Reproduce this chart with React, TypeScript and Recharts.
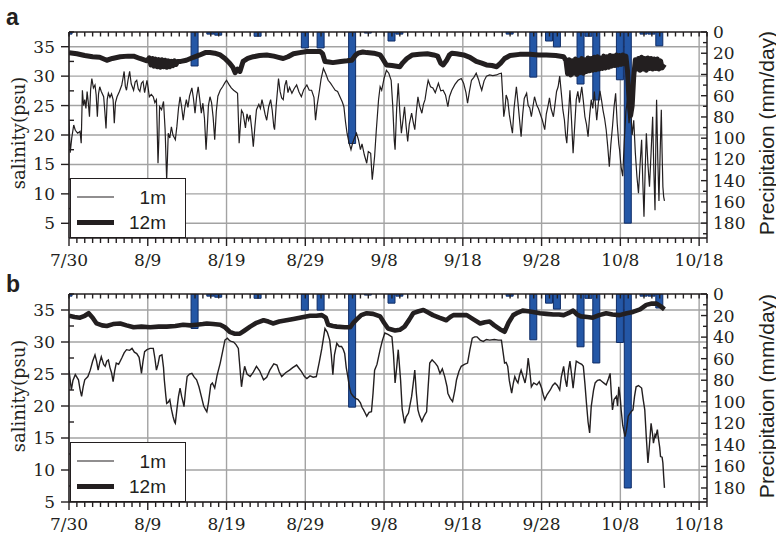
import React from 'react'
import { ComposedChart, Line, Bar, XAxis, YAxis, CartesianGrid, Legend } from 'recharts'

// x values are days counted from 7/30
const xMajor = [0, 10, 20, 30, 40, 50, 60, 70, 80]
const xLabels = ['7/30', '8/9', '8/19', '8/29', '9/8', '9/18', '9/28', '10/8', '10/18']
const dayTicks = Array.from({ length: 82 }, (_, i) => i)

const salMajor = [5, 10, 15, 20, 25, 30, 35]
const salTicks = [5, 7.5, 10, 12.5, 15, 17.5, 20, 22.5, 25, 27.5, 30, 32.5, 35, 37.5]
const precipMajor = [0, 20, 40, 60, 80, 100, 120, 140, 160, 180]
const precipTicks = [0, 10, 20, 30, 40, 50, 60, 70, 80, 90, 100, 110, 120, 130, 140, 150, 160, 170, 180, 190]

// daily precipitation (mm/day)
const rainDays = [0, 16, 18, 19, 24, 30, 32, 36, 38, 41, 42, 56, 59, 61, 62, 65, 66, 67, 70, 71, 73, 74, 75]
const rainMm = [2, 32, 2, 3, 4, 15, 15, 105, 1, 8.5, 2, 2, 42.5, 8.5, 14, 49, 4, 64, 45, 180, 2, 2, 13]

// panel a, salinity at 1 m
const a1m: [number, number][] = [
  [0, 22.5], [0.15, 17], [0.35, 19.5], [0.6, 21.7], [0.8, 20.8], [1.1, 20.3], [1.4, 20.6], [1.55, 18.6], [1.7, 27.6], [1.85, 25],
  [2, 26], [2.15, 24.5], [2.3, 27.4], [2.45, 25.5], [2.6, 23.1], [2.75, 27.8], [2.9, 29.6], [3.1, 28], [3.3, 28.5], [3.45, 26.8],
  [3.6, 23.1], [3.75, 27], [3.9, 28.2], [4.1, 27.4], [4.4, 26.5], [4.55, 24], [4.7, 21.1], [4.85, 26], [5, 27.1], [5.2, 26.4],
  [5.4, 27], [5.6, 26], [5.75, 22], [5.9, 25.5], [6.1, 26.5], [6.4, 27.4], [6.7, 28.5], [6.85, 29.6], [7, 30.8], [7.15, 28.3],
  [7.3, 27.6], [7.5, 29.4], [7.7, 30.8], [7.9, 28.7], [8.2, 27.6], [8.4, 29], [8.6, 29.3], [8.8, 27.8], [9, 27.4], [9.2, 28.8],
  [9.4, 29.1], [9.6, 27.2], [9.9, 29.3], [10.05, 28], [10.2, 26.5], [10.45, 26.9], [10.7, 26.5], [10.9, 25.5], [11.1, 26], [11.2, 21],
  [11.3, 15.2], [11.4, 19], [11.5, 24.8], [11.75, 24.3], [12, 25.7], [12.2, 21], [12.4, 12.4], [12.5, 16], [12.6, 20.3], [12.8, 19.5],
  [13, 21.4], [13.2, 20], [13.5, 19.2], [13.7, 21.5], [13.9, 24.5], [14.1, 26.5], [14.3, 24.8], [14.5, 22.5], [14.7, 24.6], [14.9, 26],
  [15.1, 24.7], [15.3, 26.6], [15.6, 28], [15.8, 26.2], [16, 23.7], [16.2, 26.5], [16.4, 28.2], [16.6, 26.1], [16.8, 23.7], [17, 25.4],
  [17.2, 22.8], [17.4, 17.5], [17.55, 21], [17.7, 25], [17.9, 26.5], [18.1, 25.5], [18.3, 23], [18.5, 19.2], [18.7, 24], [18.9, 26.6],
  [19.2, 27.6], [19.5, 28.2], [19.8, 28.9], [20, 29.3], [20.3, 28.6], [20.6, 28], [20.9, 27.6], [21.2, 27.3], [21.4, 27.1], [21.5, 23],
  [21.6, 18.6], [21.75, 21.5], [21.9, 24.2], [22.1, 23.7], [22.4, 21.2], [22.6, 23.6], [22.8, 22.5], [23, 23.4], [23.2, 21], [23.4, 18],
  [23.6, 21.4], [23.8, 24.3], [24.1, 25.2], [24.3, 24.5], [24.5, 26], [24.7, 24.8], [24.9, 23.5], [25.1, 22.5], [25.35, 24.8], [25.6, 26],
  [25.8, 24.2], [26, 21.4], [26.1, 20.9], [26.3, 24.9], [26.6, 29.6], [26.8, 27.4], [27, 26.3], [27.2, 26], [27.4, 28.4], [27.6, 29.3],
  [27.8, 27.2], [28, 28.1], [28.3, 27.1], [28.6, 27.9], [28.9, 28.5], [29.2, 27.3], [29.5, 26.5], [29.8, 27.7], [30.2, 28.5], [30.5, 27.6],
  [30.8, 27.6], [31.1, 26.4], [31.3, 22.5], [31.5, 25], [31.8, 27.6], [32, 29.5], [32.3, 31.3], [32.6, 30.4], [32.9, 29.3], [33.2, 28.8],
  [33.5, 28.2], [33.8, 27.6], [34.1, 27.4], [34.4, 26.5], [34.7, 25.6], [34.9, 24.8], [35.1, 22.3], [35.3, 20.3], [35.55, 18.7], [35.8, 17.5],
  [36, 18.6], [36.25, 19.5], [36.5, 20.3], [36.75, 19.2], [37, 17.5], [37.2, 18.5], [37.5, 16.6], [37.8, 15.2], [38, 17.2], [38.3, 16.9],
  [38.5, 12.4], [38.65, 14.3], [38.8, 16.4], [39, 20.5], [39.3, 26], [39.5, 28.2], [39.7, 27.6], [40, 29.6], [40.3, 31], [40.6, 30.5],
  [40.9, 29.3], [41.1, 25], [41.3, 19], [41.4, 17.5], [41.6, 24.5], [41.8, 28.8], [42, 24], [42.2, 20.3], [42.4, 22.5], [42.6, 24.8],
  [42.8, 21.5], [43, 18.9], [43.2, 21.8], [43.5, 23.7], [43.7, 22.2], [43.9, 20.9], [44.1, 24], [44.3, 26.5], [44.5, 25], [44.8, 23.7],
  [45, 25.2], [45.2, 26], [45.4, 27.8], [45.6, 29.3], [45.9, 28.2], [46.2, 28], [46.5, 27.2], [46.9, 28.8], [47.2, 27.5], [47.5, 27.6],
  [47.8, 26.8], [48.1, 24.8], [48.3, 26.5], [48.6, 27.6], [49, 28.6], [49.4, 29.3], [49.8, 29.6], [50.1, 28.8], [50.4, 27.2], [50.6, 25.4],
  [50.85, 27.5], [51.1, 29.3], [51.4, 29.8], [51.7, 30.5], [52, 29.4], [52.2, 28.4], [52.4, 27.6], [52.7, 29.2], [53, 30], [53.4, 30.2],
  [53.8, 30.1], [54.3, 30.2], [54.6, 30.4], [54.9, 30.5], [55.05, 27], [55.2, 23.1], [55.35, 24.5], [55.5, 26.8], [55.7, 26], [55.9, 23.5],
  [56.1, 21.8], [56.3, 20.3], [56.5, 24.5], [56.8, 28.2], [57, 25.5], [57.2, 22.6], [57.4, 19.7], [57.6, 23.5], [57.8, 26.2], [58.1, 27.1],
  [58.3, 25], [58.5, 24.6], [58.7, 23.1], [58.9, 24.8], [59.1, 26.5], [59.4, 25], [59.6, 24.5], [59.8, 23.7], [60.1, 22.5], [60.4, 20.9],
  [60.6, 23.6], [60.8, 24.8], [61, 26.3], [61.2, 24.5], [61.5, 23.1], [61.7, 25.2], [61.9, 27.4], [62.1, 28.2], [62.3, 30], [62.5, 27.2],
  [62.7, 24.3], [62.9, 22.5], [63.05, 20], [63.2, 18.6], [63.4, 23.2], [63.6, 27.6], [63.8, 22.5], [64, 16.9], [64.2, 21.5], [64.4, 26],
  [64.6, 27.4], [64.8, 25.5], [65.1, 28.2], [65.3, 25.8], [65.5, 23.1], [65.7, 21.8], [65.9, 19.7], [66.1, 23.3], [66.3, 26], [66.5, 24.5],
  [66.7, 27.4], [67, 22.5], [67.2, 25.4], [67.4, 27.5], [67.6, 26], [67.8, 24.2], [68, 22.8], [68.2, 20.9], [68.4, 18], [68.6, 14.6],
  [68.8, 18.5], [69, 21.4], [69.2, 24.8], [69.4, 27.1], [69.6, 22], [69.8, 18.5], [69.9, 17.5], [70.1, 14.5], [70.3, 13], [70.5, 19],
  [70.7, 24], [70.9, 26], [71.1, 22], [71.3, 24.5], [71.5, 20], [71.7, 22.5], [71.9, 17], [72.1, 13], [72.3, 10.1], [72.5, 15],
  [72.7, 19.2], [72.85, 12], [73, 6.1], [73.15, 14], [73.3, 20.3], [73.5, 15], [73.7, 11.2], [73.9, 17], [74.1, 23.1], [74.25, 14],
  [74.4, 7.2], [74.5, 18], [74.6, 26], [74.75, 16], [74.9, 8.8], [75.05, 17], [75.2, 24.3], [75.3, 17], [75.4, 11.2], [75.5, 9.5],
  [75.6, 8.8],
]

// panel a, salinity at 12 m (noisy stretches read as a fuzzy band)
const a12m: [number, number][] = [
  [0, 34], [1, 33.8], [2, 33.5], [3, 33.3], [3.9, 33.2], [4.8, 32.7], [5.5, 33], [6.5, 33.3], [7.5, 33.4], [8.2, 33.4],
  [9, 33], [9.9, 32.6], [10.2, 33.1], [10.4, 31.9], [10.6, 33], [10.8, 31.7], [11, 32.9], [11.2, 31.6], [11.4, 32.8], [11.6, 31.5],
  [11.8, 32.8], [12, 31.6], [12.2, 32.7], [12.4, 31.5], [12.6, 32.6], [12.8, 31.6], [13, 32.5], [13.2, 31.8], [13.4, 32.6], [13.6, 32],
  [13.8, 32.5], [14.2, 32.5], [14.9, 32.7], [15.8, 33.2], [16.6, 33.6], [17.3, 34], [17.9, 34], [18.5, 33.9], [19.2, 33.6], [19.8, 33],
  [20.4, 32.2], [20.8, 31.5], [21.1, 30.6], [21.4, 31.2], [21.7, 30.8], [22.1, 32.5], [22.7, 33], [23.4, 33.3], [24.2, 33.5], [25.1, 33.6],
  [26, 33.4], [26.6, 33.2], [27.2, 33], [27.8, 33.3], [28.5, 33.8], [29.3, 34], [30.2, 34.2], [31, 34.2], [31.9, 34.2], [32.2, 33.8],
  [32.5, 32.5], [33, 32.4], [33.5, 32.3], [34.5, 32.5], [35.3, 32.6], [35.9, 32.7], [36.4, 33.6], [36.7, 33.9], [37.3, 34.1], [37.8, 34],
  [38.7, 33.9], [39.5, 33.6], [39.9, 32.8], [40.3, 31.9], [41, 31.8], [42, 31.6], [42.4, 32.3], [42.9, 33], [43.6, 33.6], [44.5, 33.7],
  [45.5, 33.8], [46.3, 33.6], [46.8, 33.4], [47.2, 32.2], [47.5, 31.9], [47.9, 32.6], [48.3, 33.6], [48.6, 33.9], [49.2, 33.8], [50.1, 33.6],
  [50.9, 33.2], [51.7, 32.5], [52.4, 32.2], [53, 31.9], [53.7, 31.8], [54.3, 31.6], [54.8, 32.2], [55.3, 33], [56, 33.5], [57.2, 33.7],
  [58.5, 33.7], [59.6, 33.6], [60.6, 33.6], [61.8, 33.5], [62.8, 33.3], [63.1, 32.6], [63.3, 30.4], [63.5, 32.8], [63.7, 30.2], [63.9, 32.6],
  [64.1, 30.5], [64.3, 32.9], [64.5, 30.3], [64.7, 32.7], [64.9, 30.6], [65.1, 33], [65.3, 30.5], [65.5, 32.8], [65.7, 30.8], [65.9, 33.1],
  [66.1, 30.9], [66.3, 33], [66.5, 31], [66.7, 33.2], [66.9, 31.1], [67.1, 33.3], [67.3, 31.2], [67.5, 33.1], [67.7, 31.3], [67.9, 33.4],
  [68.1, 31.4], [68.3, 33.3], [68.5, 31.5], [68.7, 33.5], [68.9, 31.7], [69.1, 33.4], [69.3, 31.8], [69.5, 33.6], [69.7, 31.9], [69.9, 33.5],
  [70.1, 32], [70.3, 33.6], [70.5, 32.1], [70.7, 33.4], [70.9, 31], [71.1, 26], [71.3, 23.3], [71.5, 25], [71.7, 30], [71.9, 32.8],
  [72.1, 31.2], [72.3, 33], [72.5, 31], [72.7, 33.2], [72.9, 31.2], [73.1, 33], [73.3, 31], [73.5, 33.1], [73.7, 31.3], [73.9, 33],
  [74.1, 31.2], [74.3, 32.9], [74.5, 31.3], [74.7, 32.9], [74.9, 31.2], [75.1, 32.6], [75.3, 31.4], [75.6, 32],
]

// panel b, salinity at 1 m
const b1m: [number, number][] = [
  [0, 25.6], [0.3, 22.5], [0.5, 24], [0.8, 24.9], [1.2, 24.1], [1.4, 22.6], [1.6, 21.5], [1.8, 23], [2, 24.1], [2.4, 24.6],
  [2.7, 25.6], [3, 27], [3.3, 28], [3.5, 27], [3.7, 25.6], [3.9, 26.8], [4.1, 27.7], [4.4, 26.5], [4.6, 26.2], [4.8, 27],
  [5, 27.2], [5.2, 26], [5.4, 25.2], [5.6, 23.8], [5.8, 25.5], [6, 26.7], [6.3, 26.5], [6.7, 27.5], [7, 28.3], [7.3, 28.8],
  [7.7, 28.7], [8, 29], [8.3, 28.4], [8.6, 28.2], [8.9, 27.6], [9.1, 26], [9.2, 25.1], [9.4, 27], [9.6, 28.5], [9.9, 28.8],
  [10.3, 29], [10.7, 29], [10.9, 27.5], [11.1, 25.6], [11.3, 26.5], [11.5, 27.8], [11.8, 28], [12, 26], [12.1, 24.1], [12.3, 21.5],
  [12.4, 20.4], [12.6, 20.6], [12.8, 21], [13, 19.5], [13.2, 18.4], [13.4, 17.5], [13.5, 17.3], [13.7, 19.5], [13.9, 21.5], [14.1, 22.8],
  [14.3, 21.5], [14.5, 20.5], [14.6, 19.9], [14.8, 22.5], [15, 24.6], [15.3, 25], [15.6, 25.1], [15.9, 24.5], [16.2, 24.1], [16.5, 23],
  [16.8, 21.5], [17.1, 20], [17.3, 19.5], [17.5, 19.1], [17.7, 20.5], [18, 23.3], [18.2, 23.6], [18.5, 22.8], [18.8, 24.8], [19.2, 26.7],
  [19.5, 28.5], [19.8, 30.3], [20.1, 30.6], [20.4, 30.2], [20.6, 30.1], [20.9, 30], [21.2, 29.6], [21.5, 29], [21.7, 26], [21.9, 23],
  [22.1, 24.8], [22.3, 26.2], [22.6, 25], [23, 24.6], [23.4, 25.3], [23.8, 26.2], [24.2, 25.5], [24.7, 24.1], [25.1, 24.5], [25.5, 25.6],
  [26, 26.6], [26.4, 26.4], [26.7, 25.3], [27, 24.6], [27.5, 25.2], [28, 25.6], [28.4, 26], [28.9, 26.4], [29.2, 25.9], [29.5, 25.4],
  [29.9, 24.6], [30.2, 24.3], [30.6, 24.7], [31, 24.5], [31.4, 24.6], [31.8, 27], [32.1, 29], [32.5, 32.1], [32.8, 31.5], [33.1, 30.3],
  [33.3, 28], [33.5, 24.9], [33.7, 28], [34, 29.8], [34.3, 29.3], [34.6, 29.3], [34.8, 28.9], [35, 28.2], [35.2, 26], [35.4, 24.6],
  [35.6, 23], [35.8, 22], [36.1, 21.5], [36.4, 21.2], [36.7, 21], [37, 20.5], [37.2, 19.8], [37.4, 19.4], [37.6, 18.9], [37.8, 18.4],
  [38.1, 19], [38.4, 19.1], [38.6, 22], [38.8, 25.6], [39.1, 26.5], [39.5, 28.8], [39.8, 30.3], [40.1, 31.4], [40.5, 31.2], [41, 30.8],
  [41.2, 28], [41.4, 23.6], [41.6, 26], [41.8, 28.8], [42.1, 24], [42.3, 19.5], [42.6, 17.3], [42.8, 18.3], [43.1, 18.9], [43.3, 20.2],
  [43.5, 21.5], [43.7, 23.5], [43.9, 25.6], [44.1, 22], [44.3, 19.4], [44.5, 18.5], [44.8, 17.6], [45, 18.2], [45.2, 18.7], [45.4, 19.1],
  [45.6, 23], [45.8, 26.7], [46.1, 27.2], [46.5, 26.7], [46.8, 26.2], [47.1, 25.1], [47.4, 25.8], [47.7, 24.6], [48, 23], [48.1, 22],
  [48.4, 21.2], [48.7, 20.7], [49, 22.5], [49.2, 24.1], [49.5, 25.4], [49.8, 26.2], [50.2, 26.5], [50.6, 26.7], [50.9, 28.8], [51.2, 30.6],
  [51.5, 30.8], [51.8, 30.8], [52.2, 30.3], [52.6, 30.1], [53, 30.4], [53.4, 30.3], [54, 30.4], [54.5, 30.3], [54.9, 30.3], [55.1, 28.5],
  [55.3, 26.7], [55.5, 26.8], [55.7, 26.2], [55.9, 24], [56.2, 22], [56.4, 23.5], [56.6, 24.6], [56.8, 24], [57, 23.6], [57.2, 24.8],
  [57.4, 25.6], [57.6, 24.8], [57.9, 23.6], [58.1, 25], [58.3, 27.5], [58.5, 25.5], [58.7, 23], [59, 23.6], [59.4, 23.3], [59.7, 23.8],
  [60, 22.8], [60.2, 21.8], [60.4, 21], [60.7, 21.8], [61.1, 22.5], [61.4, 23.2], [61.7, 23.6], [62, 23.2], [62.3, 22.5], [62.5, 24.5],
  [62.8, 26.2], [63, 24.2], [63.2, 23], [63.4, 25.5], [63.6, 27], [63.8, 25], [64, 22.8], [64.2, 25], [64.4, 27], [64.8, 26.7],
  [65.1, 26.5], [65.3, 26.2], [65.5, 23.5], [65.7, 20.4], [65.9, 17.5], [66.1, 15.8], [66.3, 19.9], [66.6, 22.5], [66.8, 23.6], [67.1, 24],
  [67.4, 24.1], [67.7, 23.8], [68, 23.5], [68.2, 23.3], [68.5, 24.3], [68.7, 25.1], [68.85, 22], [69, 19.4], [69.2, 21], [69.5, 21.5],
  [69.65, 20], [69.8, 23], [70, 21], [70.1, 19.4], [70.3, 17], [70.6, 15.2], [70.8, 16.5], [71, 18.4], [71.3, 19], [71.6, 19.4],
  [71.8, 21.5], [72, 23], [72.3, 23.2], [72.7, 22.8], [72.9, 21], [73.1, 19.4], [73.3, 15], [73.5, 11.1], [73.7, 14], [73.9, 17.3],
  [74.1, 15.5], [74.2, 14.2], [74.4, 15.5], [74.5, 15.2], [74.7, 16.3], [74.8, 15.2], [75, 13.5], [75.1, 12.1], [75.3, 12], [75.4, 11.1],
  [75.5, 9], [75.6, 7.2],
]

// panel b, salinity at 12 m
const b12m: [number, number][] = [
  [0, 34.1], [0.7, 33.9], [1.4, 33.8], [2, 34.1], [2.5, 34.5], [3, 33.8], [3.5, 32.9], [4.2, 32.6], [4.8, 32.5], [5.6, 32.8],
  [6.5, 32.9], [7.3, 32.6], [8.2, 32.3], [9.2, 32.4], [10.3, 32.3], [11.4, 32.4], [12.4, 32.4], [13.5, 32.5], [14.5, 32.7], [15.4, 32.6],
  [16.2, 32.7], [17, 32.8], [17.5, 32.9], [18.3, 32.8], [19.2, 32.7], [19.8, 32.3], [20.4, 31.6], [21, 31.3], [21.7, 31.3], [22.3, 31.8],
  [23, 32.4], [23.8, 33], [24.7, 33.4], [25.3, 33.2], [25.9, 32.9], [26.7, 33.2], [27.6, 33.4], [28.5, 33.6], [29.3, 33.8], [30.6, 34.1],
  [31.4, 34.1], [32.1, 34.2], [32.6, 33.8], [32.9, 32.7], [33.5, 32.5], [34, 32.4], [35, 32.3], [35.7, 32.3], [36.1, 33], [36.5, 33.5],
  [37.1, 34.2], [37.8, 34.5], [38.6, 34.4], [39.5, 34], [40, 33], [40.5, 32.1], [41.4, 31.8], [42, 31.9], [42.6, 32.4], [43.2, 33.5],
  [43.7, 34.5], [44.4, 34.8], [45, 35], [45.6, 34.6], [46.2, 34.2], [47, 33.8], [47.9, 33.4], [48.4, 33.9], [48.8, 34.2], [49.6, 34.2],
  [50.5, 34.2], [51.4, 33.5], [52.2, 32.9], [52.8, 33.1], [53.4, 33.2], [54, 32.6], [54.7, 32], [55.3, 31.6], [55.8, 33], [56.4, 34.2],
  [57, 34.6], [57.6, 34.9], [58.3, 34.8], [58.9, 34.7], [59.8, 34.5], [60.6, 34.4], [61.5, 34.3], [62.2, 34.3], [62.8, 34.2], [63.4, 34.5],
  [64, 34.9], [64.5, 34.3], [65, 34], [65.8, 33.9], [66.5, 33.8], [67.3, 34.2], [68.2, 34.5], [69, 34.3], [69.9, 34.2], [70.8, 34.5],
  [71.6, 34.7], [72.5, 35.1], [73.3, 35.8], [74, 36], [74.6, 36], [75.1, 35.6], [75.6, 35.1],
]

const INK = '#231f20'
const GRID = '#a3a3a3'
const BAR_FILL = '#2457a6'
const BAR_EDGE = '#0f2c66'
const serif = '"DejaVu Serif", serif'
const sans = '"Liberation Sans", Arial, sans-serif'

const toPoints = (pairs: [number, number][]) => pairs.map(([d, s]) => ({ d, s }))

// top frame: small inward day ticks (tickSize/tickMargin 0, so y sits on the axis line)
function TopTick(props: any) {
  const { x, y } = props
  return <line x1={x} x2={x} y1={y} y2={y + 4.5} stroke={INK} strokeWidth={1.4} />
}

function BottomTick(props: any) {
  const { x, y, payload } = props
  const axisY = y - 16
  const i = xMajor.indexOf(payload.value)
  return (
    <g>
      <line x1={x} x2={x} y1={axisY} y2={axisY + (i >= 0 ? 8 : 5)} stroke={INK} strokeWidth={1.4} />
      {i >= 0 && (
        <text x={x} y={y} dy="0.71em" textAnchor="middle" fontFamily={serif} fontSize={17} fill={INK}>
          {xLabels[i]}
        </text>
      )}
    </g>
  )
}

function LeftTick(props: any) {
  const { x, y, payload } = props
  const axisX = x + 14
  const major = salMajor.includes(payload.value)
  return (
    <g>
      {major
        ? <line x1={axisX - 8} x2={axisX} y1={y} y2={y} stroke={INK} strokeWidth={1.4} />
        : <line x1={axisX} x2={axisX + 5} y1={y} y2={y} stroke={INK} strokeWidth={1.4} />}
      {major && (
        <text x={x} y={y} dy="0.355em" textAnchor="end" fontFamily={serif} fontSize={17} fill={INK}>
          {payload.value}
        </text>
      )}
    </g>
  )
}

function RightTick(props: any) {
  const { x, y, payload } = props
  const axisX = x - 6
  const major = precipMajor.includes(payload.value)
  return (
    <g>
      <line x1={axisX - (major ? 6 : 4)} x2={axisX} y1={y} y2={y} stroke={INK} strokeWidth={1.4} />
      {major && (
        <text x={x} y={y} dy="0.355em" textAnchor="start" fontFamily={serif} fontSize={17} fill={INK}>
          {payload.value}
        </text>
      )}
    </g>
  )
}

const leftTitle = (props: any) => {
  const vb = props.viewBox
  const cx = vb.x + 9
  const cy = vb.y + vb.height / 2 - 2
  return (
    <text x={cx} y={cy} transform={`rotate(-90 ${cx} ${cy})`} textAnchor="middle" dominantBaseline="central"
      fontFamily={serif} fontSize={18} fill={INK}>
      salinity(psu)
    </text>
  )
}

const rightTitle = (props: any) => {
  const vb = props.viewBox
  const cx = vb.x + 59
  const cy = vb.y + vb.height / 2 - 2
  return (
    <text x={cx} y={cy} transform={`rotate(-90 ${cx} ${cy})`} textAnchor="middle" dominantBaseline="central"
      fontFamily={sans} fontSize={21} fill={INK}>
      Precipitaion (mm/day)
    </text>
  )
}

const seriesNames = ['1m', '12m']

function LegendBox({ widths }: { widths: number[] }) {
  return (
    <div style={{ width: 116, height: 60, boxSizing: 'border-box', border: `1.3px solid ${INK}`, background: '#fff', position: 'relative' }}>
      <svg width={114} height={58} style={{ position: 'absolute', left: 0, top: 0 }}>
        {seriesNames.map((name, i) => (
          <g key={name}>
            <line x1={6} x2={43} y1={18 + i * 25.5} y2={18 + i * 25.5} stroke={INK} strokeWidth={widths[i]} />
            <text x={95} y={18 + i * 25.5} dy="0.36em" textAnchor="end" fontFamily={sans} fontSize={19} fill={INK}>
              {name}
            </text>
          </g>
        ))}
      </svg>
    </div>
  )
}

function Panel({ top, height, salDomain, pDomain, shallow, deep, thin, thick }: {
  top: number
  height: number
  salDomain: [number, number]
  pDomain: [number, number]
  shallow: [number, number][]
  deep: [number, number][]
  thin: number
  thick: number
}) {
  const rain = rainDays.map((d, i) => ({ d, p: rainMm[i] }))
  const axisLine = { stroke: INK, strokeWidth: 1.5 }
  return (
    <div style={{ position: 'absolute', left: 0, top, width: 776, height }}>
      <ComposedChart width={776} height={height} data={rain} margin={{ top: 12, right: 9, bottom: 2, left: 9 }}>
        <CartesianGrid xAxisId="main" yAxisId="s" stroke={GRID} strokeWidth={1.4}
          verticalValues={xMajor} horizontalValues={salMajor} />
        <XAxis xAxisId="top" orientation="top" dataKey="d" type="number" domain={[0, 81]} allowDataOverflow
          ticks={dayTicks} interval={0} tickSize={0} tickMargin={0} height={20}
          axisLine={axisLine} tickLine={false} tick={<TopTick />} />
        <XAxis xAxisId="main" dataKey="d" type="number" domain={[0, 81]} allowDataOverflow
          ticks={dayTicks} interval={0} tickSize={8} tickMargin={8} height={30}
          tickLine={false} tick={<BottomTick />} axisLine={axisLine} />
        <YAxis yAxisId="s" domain={salDomain} allowDataOverflow ticks={salTicks} interval={0}
          width={60} tickSize={8} tickMargin={6} tickLine={false} tick={<LeftTick />} axisLine={axisLine}
          label={{ content: leftTitle }} />
        <YAxis yAxisId="p" orientation="right" reversed domain={pDomain} allowDataOverflow ticks={precipTicks}
          interval={0} width={60} tickSize={1} tickMargin={5} tickLine={false} tick={<RightTick />} axisLine={axisLine}
          label={{ content: rightTitle }} />
        <Bar xAxisId="top" yAxisId="p" dataKey="p" barSize={7} fill={BAR_FILL} stroke={BAR_EDGE} strokeWidth={1}
          isAnimationActive={false} legendType="none" />
        <Line xAxisId="main" yAxisId="s" data={toPoints(shallow)} dataKey="s" name="1m" type="linear"
          stroke={INK} strokeWidth={thin} dot={false} isAnimationActive={false} />
        <Line xAxisId="main" yAxisId="s" data={toPoints(deep)} dataKey="s" name="12m" type="linear"
          stroke={INK} strokeWidth={thick} strokeLinejoin="round" dot={false} isAnimationActive={false} />
        <Legend layout="vertical" align="center" verticalAlign="middle"
          wrapperStyle={{ left: 70, top: height - 92, width: 116, height: 60 }}
          content={() => <LegendBox widths={[1.2, 5]} />} />
      </ComposedChart>
    </div>
  )
}

export default function App() {
  return (
    <div style={{ position: 'absolute', left: 0, top: 0, width: 776, height: 541, background: '#fff' }}>
      <Panel top={0} height={270} salDomain={[2.5, 37.5]} pDomain={[0, 194]} shallow={a1m} deep={a12m} thin={1.2} thick={5} />
      <Panel top={262} height={272} salDomain={[5, 37.5]} pDomain={[0, 193]} shallow={b1m} deep={b12m} thin={1.4} thick={4.6} />
      <svg width={776} height={541} style={{ position: 'absolute', left: 0, top: 0, pointerEvents: 'none' }}>
        <text x={6} y={25} fontFamily={sans} fontWeight="bold" fontSize={23} fill={INK}>a</text>
        <text x={6} y={292} fontFamily={sans} fontWeight="bold" fontSize={23} fill={INK}>b</text>
      </svg>
    </div>
  )
}
